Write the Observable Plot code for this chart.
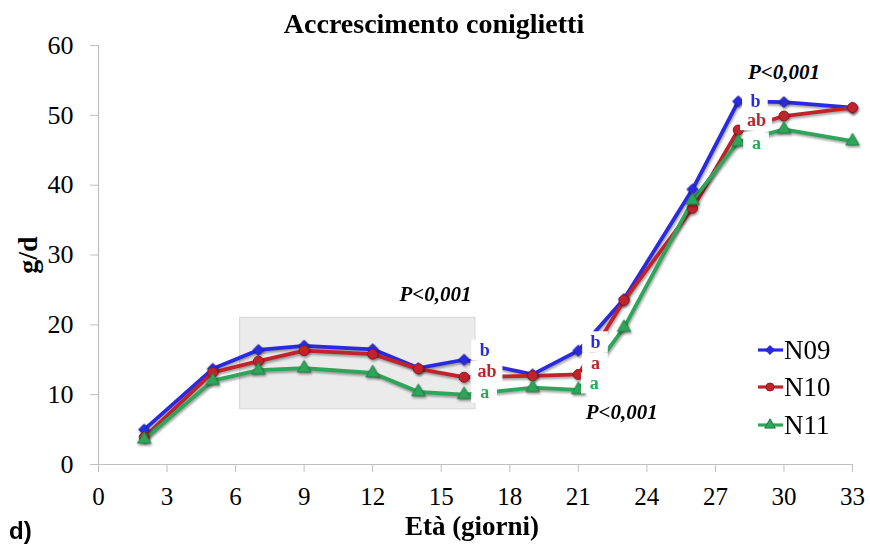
<!DOCTYPE html>
<html>
<head>
<meta charset="utf-8">
<script src="https://cdn.jsdelivr.net/npm/d3@7"></script>
<script src="https://cdn.jsdelivr.net/npm/@observablehq/plot@0.6"></script>
<style>
  body { margin: 0; background: #fff; }
  #chart { position: relative; width: 870px; height: 549px; }
  #chart g[aria-label="line"], #chart g[aria-label="dot"] {
    filter: drop-shadow(1px 2px 1.2px rgba(0,0,0,0.35));
  }
</style>
</head>
<body>
<div id="chart"></div>
<script>
// ---- data ----
const days = [2, 5, 7, 9, 12, 14, 16, 19, 21, 23, 26, 28, 30, 33];
const n09 = [5.0, 13.7, 16.4, 17.0, 16.5, 13.8, 15.0, 12.9, 16.3, 23.7, 39.4, 52.0, 51.9, 51.1];
const n10 = [3.9, 13.2, 14.8, 16.3, 15.8, 13.7, 12.5, 12.7, 12.9, 23.5, 36.7, 47.9, 49.9, 51.1];
const n11 = [3.6, 12.0, 13.5, 13.8, 13.1, 10.4, 10.0, 11.0, 10.7, 19.6, 37.8, 46.2, 48.0, 46.3];
const seriesNames = ["N09", "N10", "N11"];
const seriesColors = ["#2a2ae0", "#c0232b", "#2ea65a"];
const seriesSymbols = ["diamond2", "circle", "triangle"];
const xTicks = [0, 3, 6, 9, 12, 15, 18, 21, 24, 27, 30, 33];
const yTicks = [0, 10, 20, 30, 40, 50, 60];

// significance letters
const sigText = ["b", "ab", "a", "b", "a", "a", "b", "ab", "a"];
const sigSeries = ["N09", "N10", "N11", "N09", "N10", "N11", "N09", "N10", "N11"];
const sigX = [16.9, 17.0, 16.9, 21.75, 21.75, 21.7, 28.75, 28.8, 28.8];
const sigY = [16.3, 13.3, 10.3, 17.5, 14.5, 11.6, 52.0, 49.3, 46.0];

// P-value annotations
const pText = ["P<0,001", "P<0,001", "P<0,001"];
const pX = [14.75, 22.9, 30.0];
const pY = [24.4, 7.45, 56.2];

// highlighted period box
const boxDays = [6.2, 16.5];
const boxValues = [7.9, 21.0];

const title = "Accrescimento coniglietti";
const xLabel = "Età (giorni)";
const yLabel = "g/d";
const panel = "d)";

// ---- build ----
const values = [n09, n10, n11];
const serif = "'Liberation Serif', 'Times New Roman', serif";

const sigRows = sigText.map((t, i) => ({text: t, series: sigSeries[i], x: sigX[i], y: sigY[i]}));
const pRows = pText.map((t, i) => ({text: t, x: pX[i], y: pY[i]}));

const marks = [];
marks.push(Plot.rect([{x1: boxDays[0], x2: boxDays[1], y1: boxValues[0], y2: boxValues[1]}],
  {x1: "x1", x2: "x2", y1: "y1", y2: "y2", fill: "#ebebeb", stroke: "#d6d6d6", strokeWidth: 1}));
marks.push(Plot.ruleY([0], {stroke: "#bfbfbf", strokeWidth: 1.2}));
marks.push(Plot.ruleX([0], {stroke: "#bfbfbf", strokeWidth: 1.2}));
marks.push(Plot.axisX(xTicks, {tickSize: 8, tickPadding: 15, fontSize: 25, color: "black", stroke: "#bfbfbf", label: null, fontFamily: serif}));
marks.push(Plot.axisY(yTicks, {tickSize: 8, tickPadding: 17, fontSize: 26, color: "black", stroke: "#bfbfbf", label: null, fontFamily: serif}));

seriesNames.forEach((name, i) => {
  const rows = days.map((d, j) => ({day: d, value: values[i][j]}));
  marks.push(Plot.line(rows, {x: "day", y: "value", stroke: seriesColors[i], strokeWidth: 3.8}));
});
seriesNames.forEach((name, i) => {
  const rows = days.map((d, j) => ({day: d, value: values[i][j]}));
  const dark = d3.color(seriesColors[i]).darker(0.8).formatHex();
  marks.push(Plot.dot(rows, {x: "day", y: "value", symbol: seriesSymbols[i], r: 5,
    fill: seriesColors[i], stroke: dark, strokeWidth: 1}));
});

// white label boxes + letters
marks.push(Plot.rect(sigRows, {
  x1: d => d.x - (0.42 + 0.14 * d.text.length), x2: d => d.x + (0.42 + 0.14 * d.text.length),
  y1: d => d.y - 1.5, y2: d => d.y + 1.5, fill: "white"
}));
seriesNames.forEach((name, i) => {
  marks.push(Plot.text(sigRows.filter(d => d.series === name), {
    x: "x", y: "y", text: "text", fill: seriesColors[i], fontSize: 18, fontWeight: "bold",
    fontFamily: serif, textAnchor: "middle", lineAnchor: "middle"
  }));
});
marks.push(Plot.text(pRows, {x: "x", y: "y", text: "text", fill: "black", fontSize: 21,
  fontWeight: "bold", fontStyle: "italic", fontFamily: serif, lineAnchor: "middle"}));

const chart = Plot.plot({
  width: 870,
  height: 549,
  marginLeft: 98,
  marginRight: 18,
  marginTop: 45,
  marginBottom: 85,
  x: {domain: [0, 33]},
  y: {domain: [0, 60]},
  style: {background: "white", fontFamily: serif, overflow: "visible"},
  marks
});
document.getElementById("chart").appendChild(chart);

// titles & legend drawn into the same svg
const svg = d3.select(chart);
svg.append("text").attr("x", 434).attr("y", 33).attr("text-anchor", "middle")
  .attr("font-family", serif).attr("font-weight", "bold").attr("font-size", 28).text(title);
svg.append("text").attr("x", 472).attr("y", 535).attr("text-anchor", "middle")
  .attr("font-family", serif).attr("font-weight", "bold").attr("font-size", 27).text(xLabel);
svg.append("text").attr("transform", "translate(37,255) rotate(-90)").attr("text-anchor", "middle")
  .attr("font-family", serif).attr("font-weight", "bold").attr("font-size", 28).text(yLabel);
svg.append("text").attr("x", 9).attr("y", 539).attr("text-anchor", "start")
  .attr("font-family", "'Liberation Sans', Arial, sans-serif").attr("font-weight", "bold").attr("font-size", 24).text(panel);

const symbolTypes = {diamond2: d3.symbolDiamond2 || d3.symbolDiamond, circle: d3.symbolCircle, triangle: d3.symbolTriangle};
const legendY = [350, 387, 425];
const lg = svg.append("g");
seriesNames.forEach((name, i) => {
  const y = legendY[i];
  lg.append("line").attr("x1", 758).attr("x2", 783).attr("y1", y).attr("y2", y)
    .attr("stroke", seriesColors[i]).attr("stroke-width", 3.2);
  lg.append("path").attr("transform", `translate(770,${y})`)
    .attr("d", d3.symbol(symbolTypes[seriesSymbols[i]], 50)())
    .attr("fill", seriesColors[i]).attr("stroke", d3.color(seriesColors[i]).darker(0.8).formatHex());
  lg.append("text").attr("x", 784).attr("y", y + 8.5).attr("text-anchor", "start")
    .attr("font-family", serif).attr("font-size", 27).text(name);
});
</script>
</body>
</html>
